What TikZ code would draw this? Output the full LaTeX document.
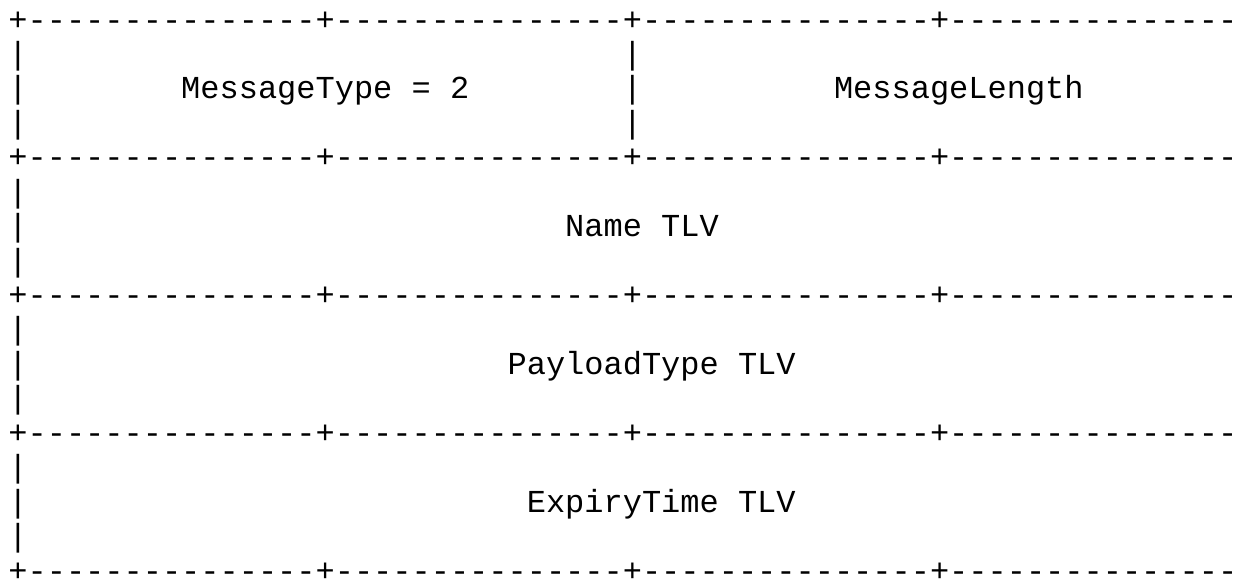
\documentclass[tikz,border=0pt]{standalone}
\usepackage{fontspec}
\setmonofont{Liberation Mono}

\begin{document}
\begin{tikzpicture}[x=1pt, y=-1pt,
  ascii/.style={anchor=base west, inner sep=0pt, outer sep=0pt,
                font=\ttfamily\fontsize{32}{34}\selectfont}]
  \useasboundingbox (0,0) rectangle (1244,579);

  % column c starts at 8.4+19.2*c, line r sits on 30+34.44*r

  % rulers between the blocks
  \foreach \r in {0,4,8,12,16}
    \node[ascii] (rule\r) at (8.4,{30+34.44*\r})
      {+---------------+---------------+---------------+---------------};

  % left border of every block
  \foreach \r in {1,2,3,5,6,7,9,10,11,13,14,15}
    \node[ascii] (bar\r) at (8.4,{30+34.44*\r}) {|};

  % divider in the first block
  \foreach \r in {1,2,3}
    \node[ascii] (mid\r) at ({8.4+19.2*32},{30+34.44*\r}) {|};

  % field names
  \node[ascii] (msgtype) at ({8.4+19.2*9},{30+34.44*2}) {MessageType = 2};
  \node[ascii] (msglen) at ({8.4+19.2*43},{30+34.44*2}) {MessageLength};
  \node[ascii] (name) at ({8.4+19.2*29},{30+34.44*6}) {Name TLV};
  \node[ascii] (payload) at ({8.4+19.2*26},{30+34.44*10}) {PayloadType TLV};
  \node[ascii] (expiry) at ({8.4+19.2*27},{30+34.44*14}) {ExpiryTime TLV};
\end{tikzpicture}
\end{document}
